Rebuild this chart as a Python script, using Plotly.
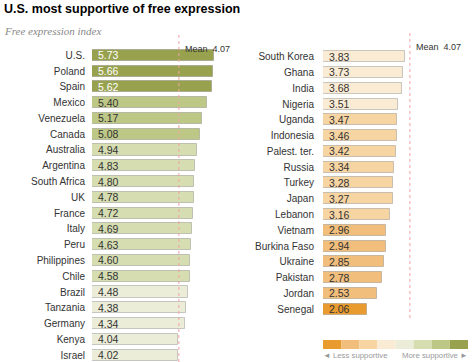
import plotly.graph_objects as go

W, H = 473, 362

left_countries = ["U.S.", "Poland", "Spain", "Mexico", "Venezuela", "Canada", "Australia",
                  "Argentina", "South Africa", "UK", "France", "Italy", "Peru", "Philippines",
                  "Chile", "Brazil", "Tanzania", "Germany", "Kenya", "Israel"]
left_values = [5.73, 5.66, 5.62, 5.40, 5.17, 5.08, 4.94, 4.83, 4.80, 4.78, 4.72, 4.69,
               4.63, 4.60, 4.58, 4.48, 4.38, 4.34, 4.04, 4.02]

right_countries = ["South Korea", "Ghana", "India", "Nigeria", "Uganda", "Indonesia",
                   "Palest. ter.", "Russia", "Turkey", "Japan", "Lebanon", "Vietnam",
                   "Burkina Faso", "Ukraine", "Pakistan", "Jordan", "Senegal"]
right_values = [3.83, 3.73, 3.68, 3.51, 3.47, 3.46, 3.42, 3.34, 3.28, 3.27, 3.16, 2.96,
                2.94, 2.85, 2.78, 2.53, 2.06]

MEAN = 4.07
bin_edges = [2.0, 2.5, 3.0, 3.5, 4.0, 4.5, 5.0, 5.5]
bin_colors = ["#E99B2F", "#F1BE7B", "#F7D5A3", "#FAEBD4", "#EBEDD9", "#D5DDB1", "#BDC886", "#98A24E"]

legend_less = "◄ Less supportive"
legend_more = "More supportive ►"


def color_for(v):
    idx = 0
    for i, e in enumerate(bin_edges):
        if v >= e:
            idx = i
    return bin_colors[idx]


def px_x(p):
    return p / W


def px_y(p):
    return 1 - p / H


ROW = 15.78
BAR_W = 0.70
FONT = "Liberation Sans, Arial, sans-serif"

fig = go.Figure()

for countries, values, xa, ya in [(left_countries, left_values, "x", "y"),
                                  (right_countries, right_values, "x2", "y2")]:
    fig.add_trace(go.Bar(
        x=values, y=list(range(len(countries))), orientation="h",
        marker=dict(color=[color_for(v) for v in values],
                    line=dict(color="rgba(110,110,110,0.35)", width=1)),
        width=BAR_W, xaxis=xa, yaxis=ya, showlegend=False, hoverinfo="skip",
    ))
    for i, v in enumerate(values):
        fig.add_annotation(
            x=0, y=i, xref=xa, yref=ya, text=f"{v:.2f}", showarrow=False,
            xanchor="left", xshift=4, yshift=0,
            font=dict(family=FONT, size=10.5,
                      color="#ffffff" if color_for(v) == bin_colors[-1] else "#333333"),
        )

scale = 21.35  # px per unit
left_x0, right_x0 = 92, 323
left_w, right_w = 140, 147
left_first, right_first = 55.3, 56.7

fig.update_layout(
    width=W, height=H, margin=dict(l=0, r=0, t=0, b=0, autoexpand=False),
    paper_bgcolor="white", plot_bgcolor="white",
    bargap=0,
    xaxis=dict(domain=[px_x(left_x0), px_x(left_x0 + left_w)], range=[0, left_w / scale],
               visible=False, fixedrange=True, automargin=False),
    xaxis2=dict(domain=[px_x(right_x0), px_x(right_x0 + right_w)], range=[0, right_w / scale],
                visible=False, fixedrange=True, anchor="y2", automargin=False),
    yaxis=dict(domain=[0, 1], range=[(H - left_first) / ROW, -left_first / ROW],
               tickvals=list(range(len(left_countries))), ticktext=left_countries,
               showgrid=False, zeroline=False, showline=False, ticks="outside",
               ticklen=4, tickcolor="rgba(0,0,0,0)", anchor="x", automargin=False,
               fixedrange=True,
               tickfont=dict(family=FONT, size=10, color="#333333")),
    yaxis2=dict(domain=[0, 1], range=[(H - right_first) / ROW, -right_first / ROW],
                tickvals=list(range(len(right_countries))), ticktext=right_countries,
                showgrid=False, zeroline=False, showline=False, ticks="outside",
                ticklen=6, tickcolor="rgba(0,0,0,0)", anchor="x2", automargin=False,
                fixedrange=True,
                tickfont=dict(family=FONT, size=10, color="#333333")),
    showlegend=False,
)

# mean lines
fig.add_shape(type="line", xref="x", yref="paper", x0=MEAN, x1=MEAN,
              y0=px_y(35), y1=0, line=dict(color="#F2A3A3", width=1, dash="dot"))
fig.add_shape(type="line", xref="x2", yref="paper", x0=MEAN, x1=MEAN,
              y0=px_y(33), y1=px_y(318), line=dict(color="#F2A3A3", width=1, dash="dot"))
fig.add_annotation(x=MEAN, y=px_y(42), xref="x", yref="paper", text=f"Mean  {MEAN:.2f}",
                   showarrow=False, xanchor="left", xshift=4,
                   font=dict(family=FONT, size=9, color="#333333"))
fig.add_annotation(x=MEAN, y=px_y(40), xref="x2", yref="paper", text=f"Mean  {MEAN:.2f}",
                   showarrow=False, xanchor="left", xshift=4,
                   font=dict(family=FONT, size=9, color="#333333"))

# title & subtitle
fig.add_annotation(x=px_x(2), y=px_y(9), xref="paper", yref="paper",
                   text="<b>U.S. most supportive of free expression</b>", showarrow=False,
                   xanchor="left", yanchor="middle",
                   font=dict(family=FONT, size=12.5, color="#000000"))
fig.add_annotation(x=px_x(2), y=px_y(31), xref="paper", yref="paper",
                   text="<i>Free expression index</i>", showarrow=False,
                   xanchor="left", yanchor="middle",
                   font=dict(family="Liberation Serif, DejaVu Serif, serif", size=11, color="#888888"))

# color legend
sw_x0, sw_x1 = 323, 468
sw_w = (sw_x1 - sw_x0) / len(bin_colors)
for i, c in enumerate(bin_colors):
    fig.add_shape(type="rect", xref="paper", yref="paper",
                  x0=px_x(sw_x0 + i * sw_w), x1=px_x(sw_x0 + (i + 1) * sw_w),
                  y0=px_y(349), y1=px_y(340), fillcolor=c, line=dict(width=0))
fig.add_annotation(x=px_x(sw_x0 - 2), y=px_y(355), xref="paper", yref="paper", text=legend_less,
                   showarrow=False, xanchor="left", yanchor="middle",
                   font=dict(family=FONT, size=7.8, color="#999999"))
fig.add_annotation(x=px_x(sw_x1 + 2), y=px_y(355), xref="paper", yref="paper", text=legend_more,
                   showarrow=False, xanchor="right", yanchor="middle",
                   font=dict(family=FONT, size=7.8, color="#999999"))

fig.write_html("out.html", config={"displayModeBar": False},
               post_script="document.body.style.margin='0px';document.body.style.overflow='hidden';")
